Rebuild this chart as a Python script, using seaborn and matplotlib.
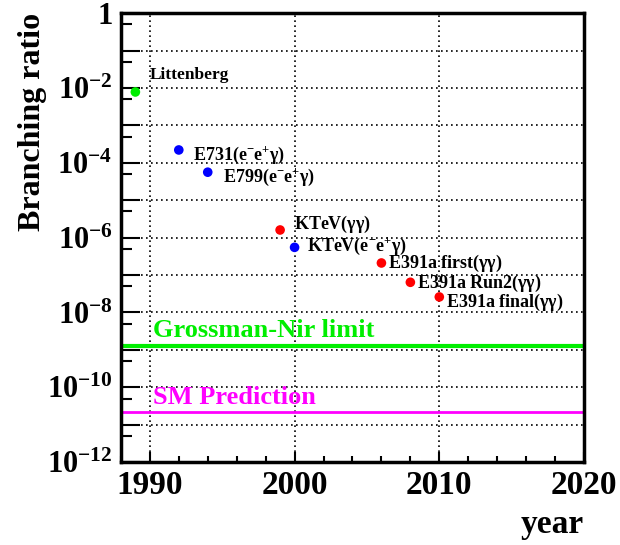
import numpy as np
import pandas as pd
import matplotlib
matplotlib.use("Agg")
import matplotlib.pyplot as plt
import seaborn as sns
from matplotlib.ticker import FixedLocator, MultipleLocator, FuncFormatter

# measurements of the branching ratio
experiments = ["Littenberg", "E731", "E799", "KTeV gg", "KTeV eeg",
               "E391a first", "E391a Run2", "E391a final"]
years = [1989, 1992, 1994, 1999, 2000, 2006, 2008, 2010]
ratios = [7.8e-3, 2.2e-4, 5.6e-5, 1.6e-6, 5.5e-7, 2.1e-7, 6.4e-8, 2.6e-8]
modes = ["theory", "eeg", "eeg", "gg", "eeg", "gg", "gg", "gg"]
point_labels = ["Littenberg",
                r"E731(e$^{-}$e$^{+}\mathsf{\gamma}$)",
                r"E799(e$^{-}$e$^{+}\mathsf{\gamma}$)",
                r"KTeV($\mathsf{\gamma\gamma}$)",
                r"KTeV(e$^{-}$e$^{+}\mathsf{\gamma}$)",
                r"E391a first($\mathsf{\gamma\gamma}$)",
                r"E391a Run2($\mathsf{\gamma\gamma}$)",
                r"E391a final($\mathsf{\gamma\gamma}$)"]

grossman_nir = 1.3e-9
sm_prediction = 2.2e-11

df = pd.DataFrame({"year": years, "ratio": ratios, "mode": modes})

sns.set_theme(style="white")
plt.rcParams["font.family"] = ["Liberation Serif", "DejaVu Serif"]
plt.rcParams["font.weight"] = "bold"
plt.rcParams["text.color"] = "black"
plt.rcParams["axes.labelcolor"] = "black"
plt.rcParams["xtick.color"] = "black"
plt.rcParams["ytick.color"] = "black"
plt.rcParams["mathtext.fontset"] = "custom"
plt.rcParams["mathtext.rm"] = "Liberation Serif:bold"
plt.rcParams["mathtext.bf"] = "Liberation Serif:bold"
plt.rcParams["mathtext.it"] = "Liberation Serif:bold"
plt.rcParams["mathtext.sf"] = "Liberation Serif"
plt.rcParams["mathtext.default"] = "rm"

fig = plt.figure(figsize=(6.2, 5.45), dpi=100)
ax = fig.add_axes([0.195, 0.152, 0.747, 0.824])

palette = {"theory": "#00ee00", "eeg": "#0000ff", "gg": "#ff0000"}
sns.scatterplot(data=df, x="year", y="ratio", hue="mode", palette=palette,
                s=48, edgecolor="none", legend=False, ax=ax, zorder=3)

ax.axhline(grossman_nir, color="#00ee00", lw=3, zorder=2)
ax.axhline(sm_prediction, color="#ff00ff", lw=2, zorder=2)

ax.set_yscale("log")
ax.set_xlim(1988, 2020)
ax.set_ylim(1e-12, 1)

# label offsets (points) relative to each marker
offsets = [(10, 12), (10, -4), (11, -4), (10, 4), (9, 1), (5, 0), (5, -1), (5, -4)]
sizes = [12.5, 13, 13, 13, 13, 13, 13, 13]
for x, y, lab, off, fs in zip(years, ratios, point_labels, offsets, sizes):
    ax.annotate(lab, (x, y), xytext=off, textcoords="offset points",
                ha="left", va="center", fontsize=fs, fontweight="bold", color="black")

ax.text(1990.2, grossman_nir * 2.6, "Grossman-Nir limit", color="#00ee00",
        fontsize=19, fontweight="bold", va="center", ha="left")
ax.text(1990.2, sm_prediction * 2.4, "SM Prediction", color="#ff00ff",
        fontsize=19, fontweight="bold", va="center", ha="left")

# ticks, grid
ax.yaxis.set_major_locator(FixedLocator([10.0 ** k for k in range(-12, 1)]))
ax.yaxis.set_minor_locator(FixedLocator([5 * 10.0 ** k for k in range(-13, 0)]))


def fmt(v, pos):
    e = int(round(np.log10(v)))
    if e == 0:
        return "1"
    if e % 2:
        return ""
    return rf"$10^{{{e}}}$"


ax.yaxis.set_major_formatter(FuncFormatter(fmt))
ax.xaxis.set_major_locator(MultipleLocator(10))
ax.xaxis.set_minor_locator(MultipleLocator(2))

ax.tick_params(axis="y", which="major", direction="in", length=14, width=1.5,
               labelsize=22, pad=6, left=True)
ax.tick_params(axis="y", which="minor", direction="in", length=8, width=1.5, left=True)
ax.tick_params(axis="x", which="major", direction="in", length=7, width=1.5,
               labelsize=24, pad=6, bottom=True)
ax.tick_params(axis="x", which="minor", direction="in", length=4, width=1.5, bottom=True)
for lab in ax.get_xticklabels() + ax.get_yticklabels():
    lab.set_fontweight("bold")

ax.grid(True, which="major", color="black", linestyle=(0, (1, 2)), lw=1.2)
for sp in ax.spines.values():
    sp.set_color("black")
    sp.set_linewidth(2.5)

ax.set_ylabel("Branching ratio", fontsize=23, fontweight="bold", loc="top")
ax.yaxis.set_label_coords(-0.16, 1.0)
ax.set_xlabel("year", fontsize=24, fontweight="bold", loc="right")
ax.xaxis.set_label_coords(1.0, -0.105)

fig.savefig("out.png", dpi=100)
